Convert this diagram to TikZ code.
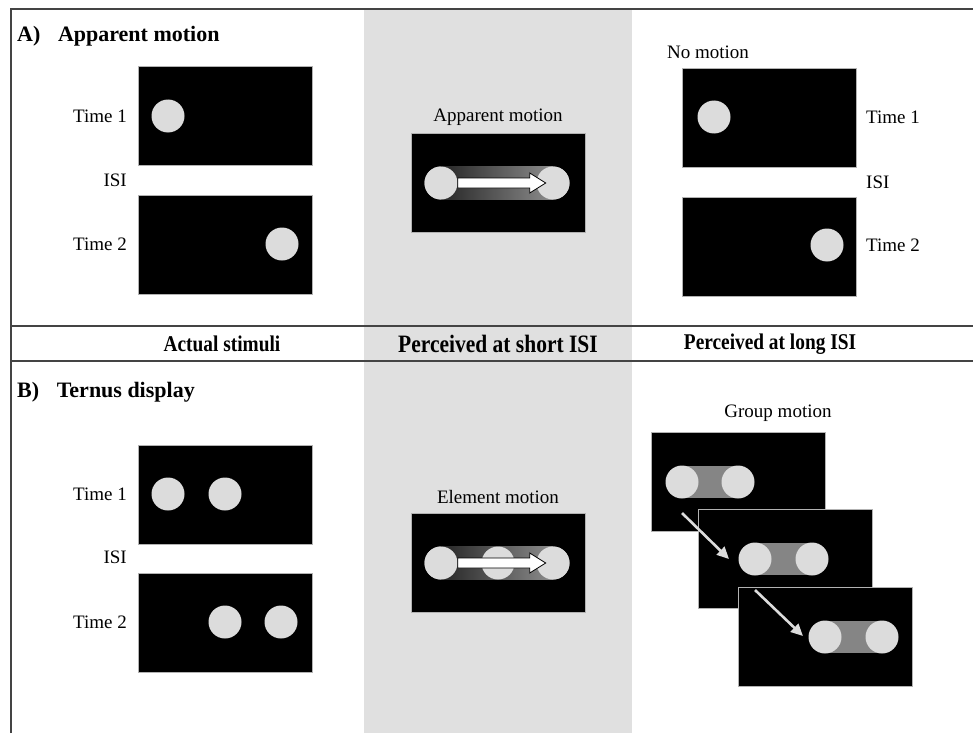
\documentclass[tikz,border=0pt]{standalone}
\usepackage{fontspec}
\setmainfont{Liberation Serif}
\usetikzlibrary{arrows.meta}
\definecolor{bandgray}{HTML}{E0E0E0}
\definecolor{dotgray}{HTML}{DCDCDC}
\definecolor{rulegray}{HTML}{444444}
% hollow arrow used in the short ISI panels, tail at #1
\newcommand{\hollowarrow}[1]{%
  \draw[black, line width=0.8pt, fill=white, shift={#1}]
    (0,-5) -- (72,-5) -- (72,-10) -- (88,0) -- (72,10) -- (72,5) -- (0,5) -- cycle;}
\begin{document}
\begin{tikzpicture}[x=1pt, y=-1pt,
  screen/.style={fill=black, draw=gray!60, line width=0.6pt, anchor=north west,
    minimum width=174pt, minimum height=99pt, inner sep=0pt},
  dot/.style={circle, fill=dotgray, minimum size=33pt, inner sep=0pt},
  lab/.style={font=\fontsize{19}{22}\selectfont, inner sep=0pt},
  title/.style={font=\bfseries\fontsize{22}{26}\selectfont, anchor=base west, inner sep=0pt},
  head/.style={font=\bfseries\fontsize{22.5}{26}\selectfont, inner sep=0pt},
  gmarrow/.style={draw=dotgray, line width=2.6pt, -{Triangle[length=12pt,width=11pt]}}]
\useasboundingbox (0,0) rectangle (973,733);
% background band and frame
\fill[bandgray] (364,10) rectangle (632,733);
\draw[rulegray, line width=1.4pt] (11,733) -- (11,9) -- (973,9);
\draw[rulegray, line width=1.4pt] (11,326) -- (973,326);
\draw[rulegray, line width=1.4pt] (11,361) -- (973,361);

% A) apparent motion
\node[title] (tA) at (17,42) {A)\hspace{0.8em}Apparent motion};
\node[screen] (sA1) at (138,66) {};
\node[screen] (sA2) at (138,195) {};
\node[dot] (dA1) at (168,116) {};
\node[dot] (dA2) at (282,244) {};
\node[lab, anchor=east] (lA1) at (127,116) {Time 1};
\node[lab, anchor=east] (lA0) at (127,180) {ISI};
\node[lab, anchor=east] (lA2) at (127,244) {Time 2};

\node[lab] (cA) at (498,117) {Apparent motion};
\node[screen] (sAc) at (411,133) {};
\node[dot] (amL) at (441,183) {};
\node[dot] (amR) at (553,183) {};
\shade[left color=black!85, right color=black!45] (amL.north) rectangle (amR.south);
\node[dot] at (amL) {};
\node[dot] at (amR) {};
\hollowarrow{(amL.east)}

\node[lab] (nA) at (708,52) {No motion};
\node[screen] (sAr1) at (682,68) {};
\node[screen] (sAr2) at (682,197) {};
\node[dot] (dAr1) at (714,117) {};
\node[dot] (dAr2) at (827,245) {};
\node[lab, anchor=west] (rA1) at (866,117) {Time 1};
\node[lab, anchor=west] (rA0) at (866,182) {ISI};
\node[lab, anchor=west] (rA2) at (866,245) {Time 2};

% column headings
\node[head] (h1) at (222,344) {\scalebox{0.86}[1]{Actual stimuli}};
\node[head, font=\bfseries\fontsize{25}{28}\selectfont] (h2) at (498,344) {\scalebox{0.86}[1]{Perceived at short ISI}};
\node[head] (h3) at (770,344) {\scalebox{0.86}[1]{Perceived at long ISI}};

% B) Ternus display
\node[title] (tB) at (17,397) {B)\hspace{0.8em}Ternus display};
\node[screen] (sB1) at (138,445) {};
\node[screen] (sB2) at (138,573) {};
\node[dot] (dB1) at (168,494) {};
\node[dot] (dB2) at (225,494) {};
\node[dot] (dB3) at (225,622) {};
\node[dot] (dB4) at (281,622) {};
\node[lab, anchor=east] (lB1) at (127,494) {Time 1};
\node[lab, anchor=east] (lB0) at (127,557) {ISI};
\node[lab, anchor=east] (lB2) at (127,622) {Time 2};

\node[lab] (cB) at (498,497) {Element motion};
\node[screen] (sBc) at (411,513) {};
\node[dot] (emL) at (441,563) {};
\node[dot] (emR) at (553,563) {};
\shade[left color=black!85, right color=black!45] (emL.north) rectangle (emR.south);
\node[dot] at (emL) {};
\node[dot] (emM) at (498,563) {};
\node[dot] at (emR) {};
\hollowarrow{(emL.east)}

\node[lab] (gB) at (778,413) {Group motion};
\node[screen] (g1) at (651,432) {};
\fill[black!48] (682,466) rectangle (738,498);
\node[dot] (g1a) at (682,482) {};
\node[dot] (g1b) at (738,482) {};
\node[screen] (g2) at (698,509) {};
\fill[black!48] (755,543) rectangle (812,575);
\node[dot] (g2a) at (755,559) {};
\node[dot] (g2b) at (812,559) {};
\node[screen] (g3) at (738,587) {};
\fill[black!48] (825,621) rectangle (882,653);
\node[dot] (g3a) at (825,637) {};
\node[dot] (g3b) at (882,637) {};
\coordinate (p1) at (682,513);
\coordinate (q1) at (729,559);
\coordinate (p2) at (755,590);
\coordinate (q2) at (803,636);
\draw[gmarrow] (p1) -- (q1);
\draw[gmarrow] (p2) -- (q2);
\end{tikzpicture}
\end{document}
